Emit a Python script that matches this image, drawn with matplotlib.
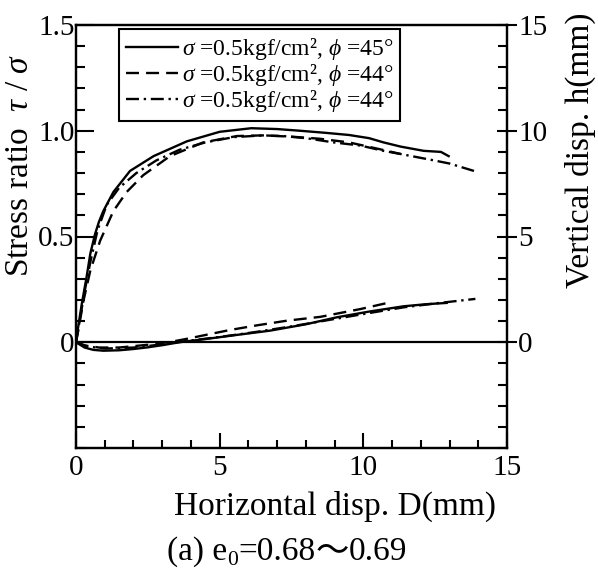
import matplotlib
matplotlib.use("Agg")
import matplotlib.pyplot as plt
from matplotlib.ticker import FixedLocator, MultipleLocator, FixedFormatter

plt.rcParams['font.family'] = ['Liberation Serif', 'DejaVu Serif']
plt.rcParams['mathtext.fontset'] = 'custom'
plt.rcParams['mathtext.rm'] = 'Liberation Serif'
plt.rcParams['mathtext.it'] = 'Liberation Serif:italic'
plt.rcParams['mathtext.bf'] = 'Liberation Serif:bold'

# ---- data: stress ratio (left axis) ----
D_s1 = [0, 0.05, 0.2, 0.37, 0.5, 0.66, 0.8, 0.95, 1.3, 1.88, 2.7, 3.86, 5.0, 6.1, 7.0, 7.8, 8.7, 9.5, 10.2, 10.7, 11.3, 12.1, 12.7, 12.97]
tau_s1 = [0, 0.05, 0.18, 0.31, 0.42, 0.51, 0.57, 0.62, 0.71, 0.81, 0.88, 0.95, 0.995, 1.012, 1.008, 1.0, 0.99, 0.98, 0.965, 0.945, 0.925, 0.905, 0.9, 0.88]

D_s2 = [0, 0.1, 0.25, 0.5, 0.84, 1.3, 1.76, 2.34, 3.27, 4.43, 5.6, 6.5, 7.5, 8.5, 9.5, 10.5, 11.3]
tau_s2 = [0, 0.07, 0.19, 0.34, 0.48, 0.62, 0.71, 0.79, 0.88, 0.945, 0.975, 0.978, 0.972, 0.962, 0.945, 0.915, 0.89]

D_s3 = [0, 0.1, 0.3, 0.5, 0.75, 1.07, 1.5, 2.1, 2.8, 3.6, 4.5, 5.5, 6.5, 7.2, 8.0, 8.96, 9.9, 10.7, 11.3, 12.45, 13.0, 13.85]
tau_s3 = [0, 0.08, 0.24, 0.38, 0.53, 0.65, 0.73, 0.80, 0.86, 0.91, 0.945, 0.97, 0.978, 0.975, 0.965, 0.945, 0.93, 0.905, 0.89, 0.86, 0.845, 0.81]

# ---- data: vertical displacement (right axis) ----
D_v1 = [0, 0.3, 0.6, 0.95, 1.5, 2.0, 2.5, 3.0, 3.6, 4.5, 5.5, 6.76, 8.0, 9.08, 10.2, 11.4, 12.2, 12.9]
h_v1 = [0, -0.25, -0.36, -0.4, -0.38, -0.32, -0.24, -0.14, 0, 0.15, 0.33, 0.55, 0.85, 1.18, 1.45, 1.7, 1.8, 1.86]

D_v2 = [0, 0.3, 0.8, 1.5, 2.5, 3.3, 3.85, 4.6, 5.36, 6.3, 7.34, 8.5, 9.9, 10.94]
h_v2 = [0, -0.15, -0.25, -0.25, -0.12, 0.02, 0.16, 0.37, 0.58, 0.8, 1.02, 1.2, 1.57, 1.89]

D_v3 = [0, 0.4, 1.0, 2.0, 3.0, 3.8, 5.0, 6.18, 7.5, 9.0, 10.2, 11.4, 12.6, 13.9]
h_v3 = [0, -0.2, -0.3, -0.25, -0.1, 0.05, 0.25, 0.47, 0.75, 1.1, 1.38, 1.65, 1.85, 2.05]

labels = [r"$\sigma$ =0.5kgf/cm², $\phi$ =45°",
          r"$\sigma$ =0.5kgf/cm², $\phi$ =44°",
          r"$\sigma$ =0.5kgf/cm², $\phi$ =44°"]

x_ticks = [0, 5, 10, 15]
left_ticks = [0, 0.5, 1.0, 1.5]
left_ticklabels = ['0', '0.5', '1.0', '1.5']
right_ticks = [0, 5, 10, 15]

W, H = 598, 572
fig = plt.figure(figsize=(W / 100, H / 100), dpi=100)
ax = fig.add_axes([76 / W, 1 - 448 / H, (507 - 76) / W, (448 - 25) / H])
ax2 = ax.twinx()

lw = 1.7
dash = (5.5, 3)
dashdot = (5.5, 2, 1, 2)
st = dict(color='black', lw=lw)
l1, = ax.plot(D_s1, tau_s1, '-', **st)
l2, = ax.plot(D_s2, tau_s2, **st, dashes=dash)
l3, = ax.plot(D_s3, tau_s3, **st, dashes=dashdot)
ax2.plot(D_v1, h_v1, '-', **st)
ax2.plot(D_v2, h_v2, **st, dashes=dash)
ax2.plot(D_v3, h_v3, **st, dashes=dashdot)
ax.axhline(0, color='black', lw=1.6)

ax.set_xlim(0, 15)
ax.set_ylim(-0.5, 1.5)
ax2.set_ylim(-5, 15)

for a in (ax, ax2):
    for s in a.spines.values():
        s.set_linewidth(1.6)

ax.xaxis.set_major_locator(FixedLocator(x_ticks))
ax.xaxis.set_minor_locator(MultipleLocator(1))
ax.yaxis.set_major_locator(FixedLocator(left_ticks))
ax.yaxis.set_major_formatter(FixedFormatter(left_ticklabels))
ax.yaxis.set_minor_locator(MultipleLocator(0.1))
ax2.yaxis.set_major_locator(FixedLocator(right_ticks))
ax2.yaxis.set_minor_locator(MultipleLocator(1))

ax.tick_params(axis='x', which='major', direction='in', length=11, width=1.5, labelsize=21, pad=5, top=False)
ax.tick_params(axis='x', which='minor', direction='in', length=6, width=1.5, top=False)
ax.tick_params(axis='y', which='major', direction='in', length=13, width=1.5, labelsize=21, pad=1, right=False)
ax.tick_params(axis='y', which='minor', direction='in', length=6.5, width=1.5, right=False)
ax2.tick_params(axis='y', which='major', direction='inout', length=14, width=1.5, labelsize=21, pad=1)
ax2.tick_params(axis='y', which='minor', direction='in', length=6.5, width=1.5)

leg = ax.legend([l1, l2, l3], labels, loc='upper left', bbox_to_anchor=(0.1, 0.99),
                borderaxespad=0, fontsize=17, handlelength=2.2, handletextpad=0.15,
                labelspacing=0.0, borderpad=0.3, fancybox=False, framealpha=1)
leg.get_frame().set_edgecolor('black')
leg.get_frame().set_linewidth(1.5)

fig.text(20 / W, 1 - 165 / H, r"Stress ratio  $\tau$ / $\sigma$", rotation=90,
         ha='center', va='center', fontsize=24)
fig.text(580 / W, 1 - 150 / H, "Vertical disp. h(mm)", rotation=90,
         ha='center', va='center', fontsize=24)
fig.text(335 / W, 1 - 515 / H, "Horizontal disp. D(mm)", ha='center', va='baseline', fontsize=24)

# caption built from pieces
fig.canvas.draw()
r = fig.canvas.get_renderer()
pieces = [("(a) e", 24, 0, None), ("0", 15.5, -5, None), ("=0.68", 24, 0, None),
          ("〜", 24, 0, ['Noto Sans CJK JP']), ("0.69", 24, 0, None)]
texts = []
for s, fs, dy, fam in pieces:
    kw = dict(fontsize=fs, ha='left', va='baseline')
    if fam:
        kw['family'] = fam
    t = fig.text(0, 0, s, **kw)
    texts.append((t, dy))
widths = [t.get_window_extent(r).width for t, _ in texts]
total = sum(widths)
x = 287 - total / 2
base = 560
for (t, dy), w in zip(texts, widths):
    t.set_position((x / W, 1 - (base - dy) / H))
    x += w

fig.savefig("out.png", dpi=100)
